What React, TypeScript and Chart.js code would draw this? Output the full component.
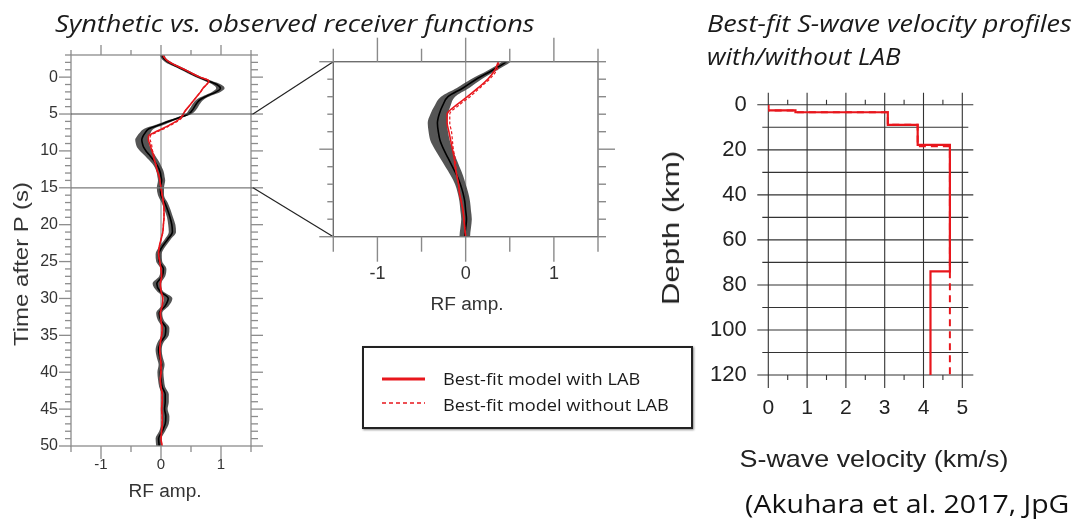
import React, { useEffect, useRef } from 'react';
import { Chart, registerables } from 'chart.js';

Chart.register(...registerables);

// ---------------- data ----------------
const timeSec = [
  -3, -2.5, -2, -1.5, -1, -0.5, 0, 0.5, 1, 1.5, 2, 2.5, 3, 3.5, 4, 4.5, 5, 5.5, 6, 6.5, 7, 7.5, 8, 8.5, 9, 9.5,
  10, 10.5, 11, 11.5, 12, 12.5, 13, 13.5, 14, 14.5, 15,
  16, 17, 18, 19, 20, 21, 22, 23, 24, 25, 26, 27, 28, 29, 30, 31, 32, 33, 34, 35, 36, 37, 38, 39, 40,
  41, 42, 43, 44, 45, 46, 47, 48, 49, 50,
];
const observedRF = [
  0.02, 0.05, 0.13, 0.25, 0.38, 0.5, 0.63, 0.78, 0.93, 0.99, 0.92, 0.78, 0.66, 0.6, 0.56, 0.52, 0.46, 0.3, 0.12,
  -0.03, -0.2, -0.26, -0.3, -0.32, -0.31, -0.29, -0.25, -0.2, -0.15, -0.1, -0.06, -0.03, -0.01, 0.0, 0.01, 0.0, -0.01,
  0.0, 0.06, 0.11, 0.15, 0.18, 0.19, 0.11, 0.02, -0.04, -0.03, 0.04, 0.02, -0.07, -0.02, 0.12, 0.07, -0.03, 0.0,
  0.08, 0.07, -0.01, -0.04, -0.02, 0.01, -0.01, 0.0, 0.02, 0.07, 0.07, 0.06, 0.08, 0.07, 0.02, -0.04, -0.03,
];
const observedSpread = [
  0.04, 0.04, 0.05, 0.05, 0.05, 0.05, 0.05, 0.06, 0.07, 0.07, 0.07, 0.06, 0.06, 0.06, 0.06, 0.06, 0.05, 0.05, 0.06,
  0.07, 0.08, 0.09, 0.1, 0.11, 0.11, 0.11, 0.1, 0.09, 0.08, 0.07, 0.06, 0.06, 0.06, 0.06, 0.06, 0.06, 0.06,
  0.05, 0.05, 0.05, 0.05, 0.06, 0.06, 0.05, 0.05, 0.05, 0.05, 0.05, 0.05, 0.07, 0.05, 0.07, 0.06, 0.05, 0.05,
  0.06, 0.06, 0.05, 0.05, 0.05, 0.05, 0.05, 0.05, 0.05, 0.06, 0.06, 0.05, 0.06, 0.06, 0.05, 0.05, 0.05,
];
const synthWithLAB = [
  0.03, 0.07, 0.15, 0.27, 0.4, 0.52, 0.65, 0.8, 0.76, 0.7, 0.66, 0.61, 0.56, 0.51, 0.46, 0.41, 0.37, 0.33, 0.25,
  0.14, 0.02, -0.11, -0.21, -0.21, -0.19, -0.17, -0.15, -0.13, -0.12, -0.1, -0.08, -0.07, -0.05, -0.03, -0.02, -0.01, 0.0,
  0.02, 0.04, 0.05, 0.05, 0.04, 0.03, 0.0, -0.03, -0.04, -0.02, 0.0, 0.01, -0.01, 0.0, 0.03, 0.02, -0.01, 0.0,
  0.02, 0.01, -0.01, -0.02, -0.01, 0.0, 0.0, -0.01, 0.0, 0.02, 0.02, 0.01, 0.02, 0.02, 0.01, 0.0, 0.02,
];
const synthWithoutLAB = [
  0.03, 0.07, 0.15, 0.27, 0.4, 0.52, 0.65, 0.8, 0.76, 0.7, 0.66, 0.61, 0.56, 0.51, 0.46, 0.41, 0.38, 0.35, 0.27,
  0.16, 0.05, -0.08, -0.18, -0.18, -0.16, -0.15, -0.14, -0.12, -0.11, -0.1, -0.08, -0.07, -0.05, -0.03, -0.02, -0.01, 0.0,
  0.02, 0.04, 0.05, 0.05, 0.04, 0.03, 0.0, -0.03, -0.04, -0.02, 0.0, 0.01, -0.01, 0.0, 0.03, 0.02, -0.01, 0.0,
  0.02, 0.01, -0.01, -0.02, -0.01, 0.0, 0.0, -0.01, 0.0, 0.02, 0.02, 0.01, 0.02, 0.02, 0.01, 0.0, 0.02,
];
const timeTickLabels = [0, 5, 10, 15, 20, 25, 30, 35, 40, 45, 50];
const ampTickLabels = [-1, 0, 1];
const timeRange = [-3, 50];
const zoomWindow = [5, 15];
const ampRange = [-1.5, 1.5];

const depthWithLAB = [0, 2.5, 2.5, 3.3, 3.3, 8.9, 8.9, 17.8, 17.8, 74, 74, 120];
const vsWithLAB = [0, 0, 0.7, 0.7, 3.08, 3.08, 3.85, 3.85, 4.68, 4.68, 4.18, 4.18];
const depthWithoutLAB = [0, 2.5, 2.5, 3.3, 3.3, 8.9, 8.9, 18.4, 18.4, 120];
const vsWithoutLAB = [0, 0, 0.7, 0.7, 3.08, 3.08, 3.85, 3.85, 4.68, 4.68];
const depthTickLabels = [0, 20, 40, 60, 80, 100, 120];
const vsTickLabels = [0, 1, 2, 3, 4, 5];
const depthRange = [0, 120];
const vsRange = [0, 5];

const seriesLabels = ['Best-fit model with LAB', 'Best-fit model without LAB'];

// ---------------- style / layout ----------------
const RED = '#e8161c';
const SANS = "'Liberation Sans', Arial, sans-serif";
const OPEN = "'Open Sans', sans-serif";
const boxA = { left: 0, top: 0, w: 340, h: 520 };
const boxB = { left: 300, top: 0, w: 320, h: 330 };
const boxC = { left: 640, top: 70, w: 437, h: 410 };

function seg(ctx: CanvasRenderingContext2D, x1: number, y1: number, x2: number, y2: number) {
  ctx.beginPath();
  ctx.moveTo(x1, y1);
  ctx.lineTo(x2, y2);
  ctx.stroke();
}

const fixedTicks = (values: number[]) => (scale: any) => {
  scale.ticks = values.map((v) => ({ value: v }));
};

function rfDatasets() {
  const pts = (vals: number[]) => timeSec.map((t, i) => ({ x: vals[i], y: t }));
  const upper = observedRF.map((v, i) => v + observedSpread[i]);
  const lower = observedRF.map((v, i) => v - observedSpread[i]);
  const common = { pointRadius: 0, cubicInterpolationMode: 'monotone' as const };
  return [
    { ...common, label: seriesLabels[0], data: pts(synthWithLAB), borderColor: RED, borderWidth: 1.6, fill: false },
    { ...common, label: seriesLabels[1], data: pts(synthWithoutLAB), borderColor: RED, borderWidth: 1.2, borderDash: [3, 2], fill: false },
    { ...common, label: 'Observed', data: pts(observedRF), borderColor: '#000', borderWidth: 1.6, fill: false },
    { ...common, label: 'Observed upper', data: pts(upper), borderColor: 'rgba(0,0,0,0)', borderWidth: 1, backgroundColor: 'rgba(62,62,62,0.88)', fill: '+1' },
    { ...common, label: 'Observed lower', data: pts(lower), borderColor: 'rgba(0,0,0,0)', borderWidth: 1, fill: false },
  ];
}

const noGrid = { display: false, drawTicks: false };
const noBorder = { display: false };

function configA(getB: () => any) {
  return {
    type: 'line',
    data: { datasets: rfDatasets() },
    options: {
      indexAxis: 'y',
      responsive: false,
      animation: false,
      events: [],
      layout: { padding: { top: 55, right: 89, left: 0, bottom: 0 } },
      plugins: { legend: { display: false }, tooltip: { enabled: false } },
      scales: {
        x: {
          type: 'linear', position: 'bottom', min: ampRange[0], max: ampRange[1],
          grid: noGrid, border: noBorder,
          afterFit: (s: any) => { s.height = 74; },
          afterBuildTicks: fixedTicks(ampTickLabels),
          ticks: { padding: 10, color: '#333', font: { family: SANS, size: 15 }, callback: (v: any) => String(v) },
        },
        y: {
          type: 'linear', position: 'left', min: timeRange[0], max: timeRange[1], reverse: true,
          grid: noGrid, border: noBorder,
          afterFit: (s: any) => { s.width = 71; },
          afterBuildTicks: fixedTicks(timeTickLabels),
          ticks: { padding: 13, color: '#333', font: { family: SANS, size: 16 }, callback: (v: any) => String(v) },
        },
      },
    },
    plugins: [
      {
        id: 'frameA',
        beforeDatasetsDraw(chart: any) {
          const { ctx, chartArea: { top, bottom }, scales: { x } } = chart;
          ctx.save();
          ctx.strokeStyle = '#9a9a9a';
          ctx.lineWidth = 1.3;
          const x0 = x.getPixelForValue(0);
          seg(ctx, x0, top, x0, bottom);
          ctx.restore();
        },
        afterDraw(chart: any) {
          const { ctx, chartArea: { left, right, top, bottom }, scales: { x, y } } = chart;
          ctx.save();
          ctx.strokeStyle = '#8c8c8c';
          ctx.lineWidth = 1.3;
          ctx.strokeRect(left, top, right - left, bottom - top);
          for (let t = Math.ceil(timeRange[0]); t <= timeRange[1]; t++) {
            const py = y.getPixelForValue(t);
            const major = t % 5 === 0;
            seg(ctx, left - (major ? 12 : 6), py, left, py);
            seg(ctx, right, py, right + (major ? 12 : 7), py);
          }
          for (let a = ampRange[0]; a <= ampRange[1] + 1e-9; a += 0.5) {
            const px = x.getPixelForValue(a);
            const major = Math.abs(a - Math.round(a)) < 1e-9;
            seg(ctx, px, top - (major ? 10 : 5), px, top);
            seg(ctx, px, bottom, px, bottom + (major ? 13 : 6));
          }
          // zoom window and connectors to the middle panel
          const b = getB();
          ctx.lineWidth = 1.2;
          zoomWindow.forEach((t, i) => {
            const py = y.getPixelForValue(t);
            ctx.strokeStyle = i === 0 ? '#4a4a4a' : '#7a7a7a';
            seg(ctx, left, py, right + 2, py);
            if (b) {
              const bx = boxB.left - boxA.left + b.chartArea.left;
              const by = boxB.top - boxA.top + b.scales.y.getPixelForValue(t);
              ctx.strokeStyle = '#222';
              seg(ctx, right + 2, py, bx, by);
            }
          });
          ctx.restore();
        },
      },
    ],
  };
}

function configB() {
  return {
    type: 'line',
    data: { datasets: rfDatasets() },
    options: {
      indexAxis: 'y',
      responsive: false,
      animation: false,
      events: [],
      layout: { padding: { top: 61.7, right: 22, left: 33.3, bottom: 0 } },
      plugins: { legend: { display: false }, tooltip: { enabled: false } },
      scales: {
        x: {
          type: 'linear', position: 'bottom', min: ampRange[0], max: ampRange[1],
          grid: noGrid, border: noBorder,
          afterFit: (s: any) => { s.height = 93.3; },
          afterBuildTicks: fixedTicks(ampTickLabels),
          ticks: { padding: 27, color: '#333', font: { family: SANS, size: 18 }, callback: (v: any) => String(v) },
        },
        y: {
          type: 'linear', display: false, min: zoomWindow[0], max: zoomWindow[1], reverse: true,
        },
      },
    },
    plugins: [
      {
        id: 'frameB',
        beforeDatasetsDraw(chart: any) {
          const { ctx, chartArea: { top, bottom }, scales: { x } } = chart;
          ctx.save();
          ctx.strokeStyle = '#a0a0a0';
          ctx.lineWidth = 1.3;
          const x0 = x.getPixelForValue(0);
          seg(ctx, x0, top, x0, bottom);
          ctx.restore();
        },
        afterDraw(chart: any) {
          const { ctx, chartArea: { left, right, top, bottom }, scales: { x, y } } = chart;
          ctx.save();
          ctx.strokeStyle = '#6e6e6e';
          ctx.lineWidth = 1.4;
          ctx.strokeRect(left, top, right - left, bottom - top);
          ctx.strokeStyle = '#8a8a8a';
          for (let t = zoomWindow[0]; t <= zoomWindow[1]; t++) {
            const py = y.getPixelForValue(t);
            const major = t % 5 === 0;
            seg(ctx, left - (major ? 14 : 6), py, left, py);
            seg(ctx, right, py, right + (t === 10 ? 17 : 8), py);
          }
          for (let a = ampRange[0]; a <= ampRange[1] + 1e-9; a += 0.5) {
            const px = x.getPixelForValue(a);
            const major = Math.abs(a - Math.round(a)) < 1e-9;
            seg(ctx, px, top - (major ? 24 : 13), px, top);
            seg(ctx, px, bottom, px, bottom + (major ? 25 : 15));
          }
          ctx.restore();
        },
      },
    ],
  };
}

function configC() {
  const pts = (vs: number[], d: number[]) => d.map((dep, i) => ({ x: vs[i], y: dep }));
  return {
    type: 'line',
    data: {
      datasets: [
        { label: seriesLabels[0], data: pts(vsWithLAB, depthWithLAB), borderColor: RED, borderWidth: 2.2, pointRadius: 0, tension: 0, fill: false },
        { label: seriesLabels[1], data: pts(vsWithoutLAB, depthWithoutLAB), borderColor: RED, borderWidth: 2, borderDash: [7, 5], pointRadius: 0, tension: 0, fill: false },
      ],
    },
    options: {
      indexAxis: 'y',
      responsive: false,
      animation: false,
      events: [],
      layout: { padding: { top: 34.3, right: 114.7, left: 0, bottom: 0 } },
      plugins: { legend: { display: false }, tooltip: { enabled: false } },
      scales: {
        x: {
          type: 'linear', position: 'bottom', min: vsRange[0], max: vsRange[1],
          grid: noGrid, border: noBorder,
          afterFit: (s: any) => { s.height = 105; },
          afterBuildTicks: fixedTicks(vsTickLabels),
          ticks: { padding: 21, color: '#222', font: { family: SANS, size: 21 }, callback: (v: any) => String(v) },
        },
        y: {
          type: 'linear', position: 'left', min: depthRange[0], max: depthRange[1], reverse: true,
          grid: noGrid, border: noBorder,
          afterFit: (s: any) => { s.width = 128.3; },
          afterBuildTicks: fixedTicks(depthTickLabels),
          ticks: { padding: 21.6, color: '#222', font: { family: SANS, size: 22 }, callback: (v: any) => String(v) },
        },
      },
    },
    plugins: [
      {
        id: 'gridC',
        beforeDatasetsDraw(chart: any) {
          const { ctx, chartArea: { left, right, top, bottom }, scales: { x, y } } = chart;
          ctx.save();
          ctx.strokeStyle = '#333';
          ctx.lineWidth = 1.1;
          for (let v = vsRange[0]; v <= vsRange[1] + 1e-9; v += 0.5) {
            const px = x.getPixelForValue(v);
            if (Math.abs(v - Math.round(v)) < 1e-9) {
              seg(ctx, px, top - 12, px, bottom + 13);
            } else {
              seg(ctx, px, top - 5, px, top);
              seg(ctx, px, bottom, px, bottom + 5);
            }
          }
          for (let d = depthRange[0]; d <= depthRange[1]; d += 10) {
            const py = y.getPixelForValue(d);
            if (d % 20 === 0) seg(ctx, left - 11, py, right + 11, py);
            else seg(ctx, left - 6, py, right + 6, py);
          }
          ctx.restore();
        },
      },
    ],
  };
}

// ---------------- text helpers ----------------
function HText(props: { x: number; baseline: number; text: string; size: number; family?: string; italic?: boolean; center?: boolean; scale?: number; color?: string }) {
  const { x, baseline, text, size, family = SANS, italic, center, scale = 1, color = '#222' } = props;
  const k = family === OPEN ? 0.888 : 0.8465;
  const tf = `${center ? 'translateX(-50%) ' : ''}scaleX(${scale})`;
  return (
    <div
      style={{
        position: 'absolute', left: x, top: baseline - k * size, fontFamily: family, fontSize: size, lineHeight: 1,
        fontStyle: italic ? 'italic' : 'normal', whiteSpace: 'nowrap', color,
        transform: tf, transformOrigin: center ? '50% 50%' : '0 50%',
      }}
    >
      {text}
    </div>
  );
}

function VText(props: { cx: number; cy: number; text: string; size: number; scale?: number; color?: string }) {
  const { cx, cy, text, size, scale = 1, color = '#222' } = props;
  return (
    <div
      style={{
        position: 'absolute', left: cx, top: cy, fontFamily: SANS, fontSize: size, lineHeight: 1, whiteSpace: 'nowrap', color,
        transform: `translate(-50%, -50%) rotate(-90deg) scaleX(${scale})`,
      }}
    >
      {text}
    </div>
  );
}

export default function App() {
  const refA = useRef<HTMLCanvasElement>(null);
  const refB = useRef<HTMLCanvasElement>(null);
  const refC = useRef<HTMLCanvasElement>(null);

  useEffect(() => {
    Chart.defaults.font.family = SANS;
    const chartB = new Chart(refB.current as HTMLCanvasElement, configB() as any);
    const chartA = new Chart(refA.current as HTMLCanvasElement, configA(() => chartB) as any);
    const chartC = new Chart(refC.current as HTMLCanvasElement, configC() as any);
    return () => {
      chartA.destroy();
      chartB.destroy();
      chartC.destroy();
    };
  }, []);

  const canvasStyle = (b: { left: number; top: number; w: number; h: number }) => ({
    position: 'absolute' as const, left: b.left, top: b.top, width: b.w, height: b.h,
  });

  return (
    <div style={{ position: 'fixed', left: 0, top: 0, width: 1077, height: 520, background: '#fff', overflow: 'hidden' }}>
      <canvas ref={refA} width={boxA.w} height={boxA.h} style={canvasStyle(boxA)} />
      <canvas ref={refB} width={boxB.w} height={boxB.h} style={canvasStyle(boxB)} />
      <canvas ref={refC} width={boxC.w} height={boxC.h} style={canvasStyle(boxC)} />

      <HText x={55} baseline={32} text="Synthetic vs. observed receiver functions" size={24} family={OPEN} italic scale={1.13} color="#1a1a1a" />
      <HText x={707} baseline={32} text="Best-fit S-wave velocity profiles" size={24} family={OPEN} italic scale={1.13} color="#1a1a1a" />
      <HText x={707} baseline={65} text="with/without LAB" size={24} family={OPEN} italic scale={1.08} color="#1a1a1a" />

      <VText cx={21} cy={264} text="Time after P (s)" size={20} scale={1.2} color="#333" />
      <HText x={165} baseline={497.7} text="RF amp." size={18} center scale={1.06} color="#333" />
      <HText x={466.7} baseline={310} text="RF amp." size={18} center scale={1.06} color="#333" />

      <VText cx={671} cy={228} text="Depth (km)" size={24} scale={1.3} color="#222" />
      <HText x={874} baseline={467} text="S-wave velocity (km/s)" size={24} center scale={1.12} color="#222" />

      <HText x={745} baseline={512.7} text="(Akuhara et al. 2017, JpG" size={25} family={OPEN} scale={1.14} color="#111" />

      <div
        style={{
          position: 'absolute', left: 362, top: 346, width: 331, height: 83, boxSizing: 'border-box',
          border: '2px solid #222', boxShadow: '1px 1px 2px rgba(0,0,0,0.45)', background: '#fff',
        }}
      />
      <svg style={{ position: 'absolute', left: 380, top: 370, width: 50, height: 40 }} width={50} height={40}>
        <line x1={2} y1={9} x2={45} y2={9} stroke={RED} strokeWidth={3} />
        <line x1={2} y1={33} x2={45} y2={33} stroke={RED} strokeWidth={1.5} strokeDasharray="4 3" />
      </svg>
      <HText x={443} baseline={385} text={seriesLabels[0]} size={17} family={OPEN} scale={1.07} color="#1a1a1a" />
      <HText x={443} baseline={410.7} text={seriesLabels[1]} size={17} family={OPEN} scale={1.07} color="#1a1a1a" />
    </div>
  );
}
